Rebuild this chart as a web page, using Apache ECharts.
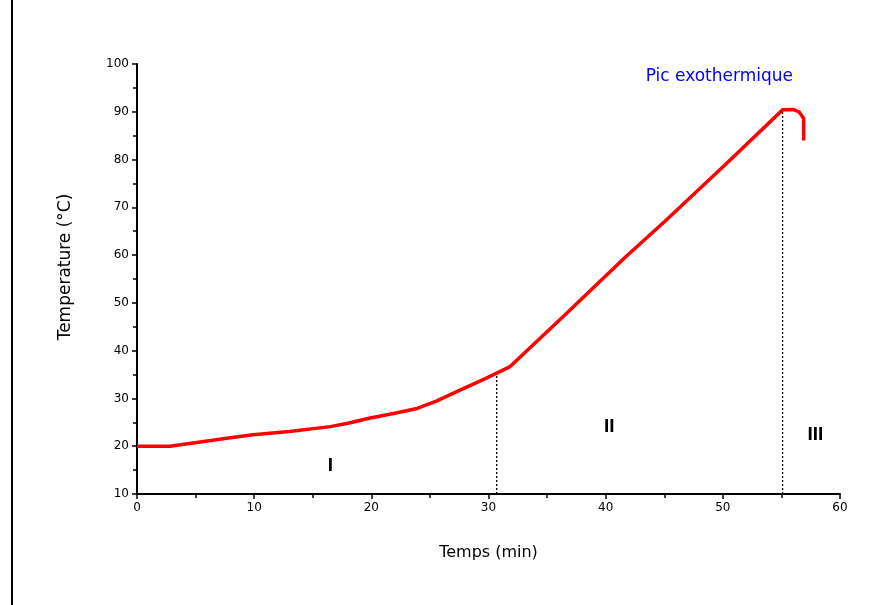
<!DOCTYPE html>
<html><head><meta charset="utf-8">
<script src="https://cdn.jsdelivr.net/npm/echarts@6/dist/echarts.min.js"></script>
<style>html,body{margin:0;padding:0;background:#fff}#c{width:878px;height:605px}</style>
</head><body><div id="c"></div>
<script>
const timeMin = [0, 2.8, 5.1, 7.5, 9.9, 13, 16.5, 18, 19.9, 22, 23.9, 25.5, 27.8, 29.5, 30.7, 31.8, 36.4, 41.6, 45.2, 50.4, 55.1, 56.0, 56.5, 56.9, 56.9];
const tempC   = [20, 20, 20.8, 21.6, 22.4, 23.1, 24.1, 24.8, 25.9, 26.9, 27.9, 29.4, 32.0, 33.9, 35.3, 36.6, 47.2, 59.4, 67.4, 79.4, 90.4, 90.5, 90.0, 88.6, 84.0];
const boundary1 = {t: 30.7, T: 35.3};
const boundary2 = {t: 55.1, T: 90.3};
const regionLabels = [
  {name: 'I', t: 16.5, T: 16.0},
  {name: 'II', t: 40.3, T: 24.0},
  {name: 'III', t: 57.9, T: 22.5}
];
const peakLabel = {name: 'Pic exothermique', t: 49.7, T: 97.3};
const xTicks = [0, 10, 20, 30, 40, 50, 60];
const yTicks = [10, 20, 30, 40, 50, 60, 70, 80, 90, 100];

const font = 'DejaVu Sans';
const chart = echarts.init(document.getElementById('c'));
chart.setOption({
  backgroundColor: '#fff',
  animation: false,
  grid: {left: 137, right: 38, top: 64, bottom: 111},
  xAxis: {
    type: 'value', min: xTicks[0], max: xTicks[xTicks.length-1], interval: 10,
    name: 'Temps (min)', nameLocation: 'middle', nameGap: 51,
    nameTextStyle: {fontFamily: font, fontSize: 16, color: '#000'},
    axisLine: {lineStyle: {color: '#000', width: 2}},
    axisTick: {show: true, length: 5, lineStyle: {color: '#000', width: 1.5}},
    minorTick: {show: true, splitNumber: 2, length: 4, lineStyle: {color: '#000', width: 1.5}},
    axisLabel: {fontFamily: font, fontSize: 12, color: '#000', margin: 8},
    splitLine: {show: false}
  },
  yAxis: {
    type: 'value', min: yTicks[0], max: yTicks[yTicks.length-1], interval: 10,
    name: 'Temperature (°C)', nameLocation: 'middle', nameGap: 63, nameRotate: 90,
    nameTextStyle: {fontFamily: font, fontSize: 17, color: '#000', padding: [0, 0, 0, 24]},
    axisLine: {show: true, lineStyle: {color: '#000', width: 2}},
    axisTick: {show: true, length: 5, lineStyle: {color: '#000', width: 1.5}},
    minorTick: {show: true, splitNumber: 2, length: 4, lineStyle: {color: '#000', width: 1.5}},
    axisLabel: {fontFamily: font, fontSize: 12, color: '#000', margin: 8},
    splitLine: {show: false}
  },
  graphic: [{type: 'line', shape: {x1: 12, y1: 0, x2: 12, y2: 605}, style: {stroke: '#000', lineWidth: 2}}],
  series: [
    {
      type: 'line', data: [[boundary1.t, yTicks[0]], [boundary1.t, boundary1.T]],
      symbol: 'none', lineStyle: {color: '#000', width: 1.3, type: [2, 2]}, z: 1
    },
    {
      type: 'line', data: [[boundary2.t, yTicks[0]], [boundary2.t, boundary2.T]],
      symbol: 'none', lineStyle: {color: '#000', width: 1.3, type: [2, 2]}, z: 1
    },
    {
      type: 'line', data: timeMin.map((t, i) => [t, tempC[i]]),
      symbol: 'none', smooth: false, lineStyle: {color: '#ff0000', width: 3.5, join: 'round'}, z: 3
    },
    {
      type: 'scatter', symbolSize: 0, itemStyle: {opacity: 1},
      data: regionLabels.map(r => ({value: [r.t, r.T], name: r.name})),
      label: {show: true, position: 'inside', formatter: p => p.name, opacity: 1,
        fontFamily: 'Liberation Sans', fontSize: 19, fontWeight: 'bold', color: '#000'},
      z: 4
    },
    {
      type: 'scatter', symbolSize: 0, itemStyle: {opacity: 1},
      data: [{value: [peakLabel.t, peakLabel.T], name: peakLabel.name}],
      label: {show: true, position: 'inside', formatter: p => p.name, opacity: 1,
        fontFamily: font, fontSize: 17, color: '#0000ff'},
      z: 4
    }
  ]
});
</script></body></html>
